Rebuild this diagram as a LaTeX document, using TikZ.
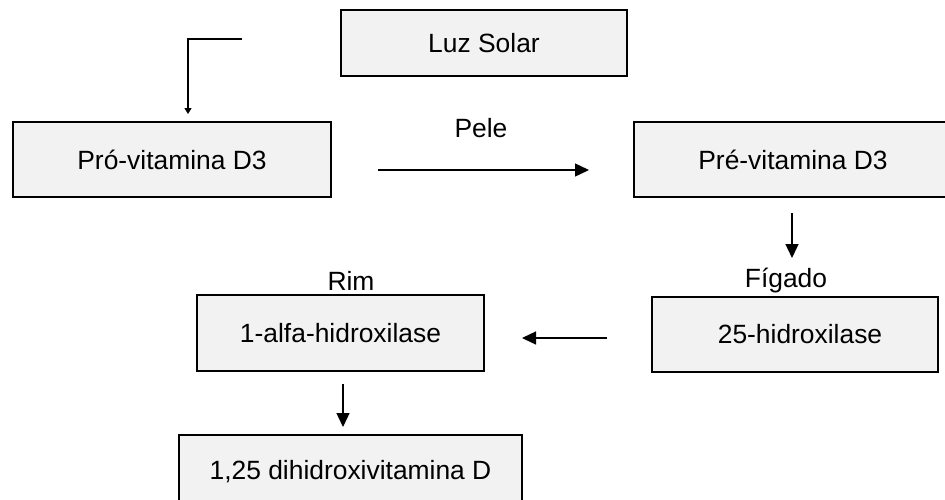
\documentclass[tikz,border=0pt]{standalone}
\usepackage{fontspec}
\setmainfont{Liberation Sans}
\usetikzlibrary{arrows.meta}
\definecolor{boxfill}{HTML}{F2F2F2}
\tikzset{
  stagebox/.style={draw=black, line width=2pt, fill=boxfill, inner sep=0pt,
    font=\fontsize{26.4}{30}\selectfont, align=center},
  lbl/.style={font=\fontsize{26.4}{30}\selectfont, inner sep=0pt},
  flow/.style={line width=1.4pt, -{Triangle[length=14pt,width=13pt]}},
  smallflow/.style={line width=1.4pt, -{Triangle[length=6pt,width=7pt]}}
}
\begin{document}
\begin{tikzpicture}[x=1pt,y=-1pt]
\useasboundingbox (0,0) rectangle (945,499);
\fill[white] (0,0) rectangle (945,499);
% boxes
\node[stagebox, minimum width=286pt, minimum height=66pt] (luz) at (484,43) {Luz Solar};
\node[stagebox, minimum width=318pt, minimum height=75pt] (pro) at (172,159.5) {Pró-vitamina D3};
\node[stagebox, minimum width=318pt, minimum height=75pt] (pre) at (793,159.5) {Pré-vitamina D3};
\node[stagebox, minimum width=287pt, minimum height=76pt] (alfa) at (340.5,333) {1-alfa-hidroxilase};
\node[stagebox, minimum width=286pt, minimum height=75pt] (h25) at (795,334.5) {\hspace*{10pt}25-hidroxilase};
\node[stagebox, minimum width=343pt, minimum height=74pt] (dih) at (350.5,472) {1,25 dihidroxivitamina D};
% labels
\node[lbl] (pele) at (481,128) {Pele};
\node[lbl] (figado) at (786,281) {Fígado};
\node[lbl] (rim) at (351,281) {Rim};
% connector end points
\coordinate (t1) at (242,39);
\coordinate (t2) at (188,39);
\coordinate (t3) at (188,114);
\coordinate (a1) at (378,170);
\coordinate (a2) at (589,170);
\coordinate (b1) at (792,213);
\coordinate (b2) at (792,258);
\coordinate (c1) at (607,338);
\coordinate (c2) at (522,338);
\coordinate (d1) at (343,384);
\coordinate (d2) at (343,427);
% connectors
\draw[smallflow] (t1) -- (t2) -- (t3);
\draw[flow] (a1) -- (a2);
\draw[flow] (b1) -- (b2);
\draw[flow] (c1) -- (c2);
\draw[flow] (d1) -- (d2);
\end{tikzpicture}
\end{document}
